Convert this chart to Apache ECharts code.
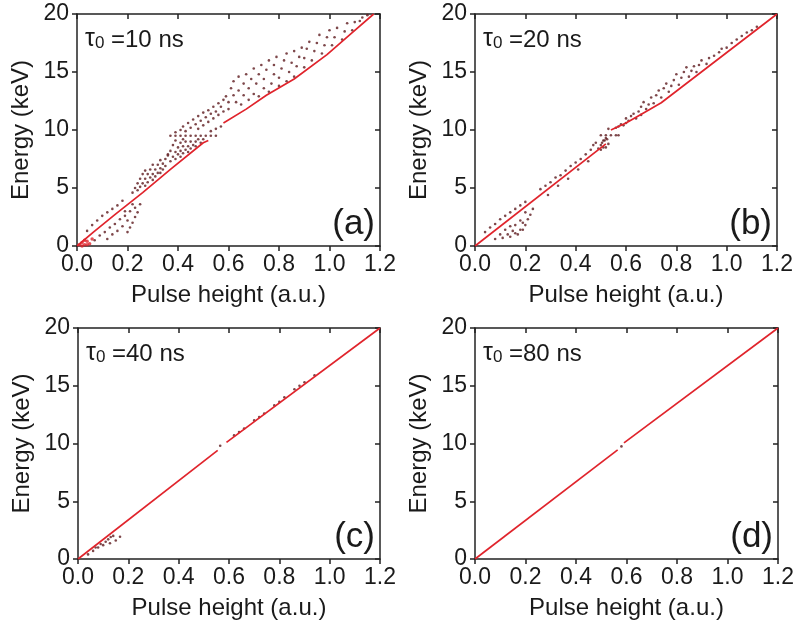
<!DOCTYPE html>
<html><head><meta charset="utf-8">
<script src="https://cdn.jsdelivr.net/npm/echarts@6/dist/echarts.min.js"></script>
<style>html,body{margin:0;padding:0;background:#fff}#c{width:800px;height:623px}</style>
</head><body><div id="c"></div>
<script>
// ---- data ----
var panelNames = ['(a)', '(b)', '(c)', '(d)'];
var tauLabels = ['10', '20', '40', '80'];
var xTicks = [0.0, 0.2, 0.4, 0.6, 0.8, 1.0, 1.2];
var yTicks = [0, 5, 10, 15, 20];

// (a) tau0 = 10 ns
var aBandLow = [[0,0],[0.065,1.2],[0.15,2.7],[0.26,4.6],[0.37,6.6],[0.5,8.9],[0.52,9.1]];
var aBandHigh = [[0.58,10.6],[0.67,11.8],[0.75,13.0],[0.86,14.4],[0.99,16.5],[1.09,18.4],[1.175,20]];
var aOrigin = [[0.01,0.1],[0.02,0.3],[0.03,0.1],[0.04,0.4],[0.03,0.5],[0.05,0.2],[0.02,0.0],[0.04,0.1],[0.06,0.6]];
var aScatter = [
[0.04,1.3],[0.06,1.8],[0.08,2.2],[0.10,2.6],[0.12,2.9],[0.14,3.2],[0.16,3.5],[0.18,3.9],[0.07,0.5],[0.09,0.9],
[0.11,1.2],[0.13,1.6],[0.15,1.9],[0.17,2.3],[0.19,2.6],[0.21,3.0],[0.23,3.3],[0.25,3.6],[0.12,0.6],[0.14,1.0],
[0.16,1.3],[0.18,1.7],[0.20,1.2],[0.21,1.6],[0.22,2.0],[0.23,2.5],[0.24,2.9],[0.20,2.2],[0.19,3.0],[0.22,3.6],
[0.22,4.6],[0.23,5.0],[0.24,5.4],[0.25,5.8],[0.26,6.2],[0.27,6.5],[0.24,4.8],[0.25,5.1],[0.26,5.4],[0.27,5.8],
[0.28,6.2],[0.29,6.6],[0.30,7.0],[0.27,5.2],[0.28,5.5],[0.29,5.9],[0.30,6.2],[0.31,6.6],[0.32,7.0],[0.33,7.4],
[0.30,5.7],[0.31,6.0],[0.32,6.3],[0.33,6.7],[0.34,7.1],[0.35,7.5],[0.36,7.9],[0.33,6.3],[0.34,6.6],[0.35,6.9],
[0.37,9.5],[0.39,9.5],[0.41,9.5],[0.43,9.5],[0.45,9.5],[0.47,9.5],[0.49,9.5],[0.51,9.5],[0.53,9.5],[0.55,9.5],
[0.37,7.3],[0.38,7.7],[0.39,8.1],[0.40,8.5],[0.41,8.9],[0.42,9.2],[0.39,7.5],[0.40,7.9],[0.41,8.2],[0.42,8.6],
[0.43,9.0],[0.41,7.7],[0.42,8.0],[0.43,8.3],[0.44,8.6],[0.45,9.0],[0.44,8.1],[0.45,8.4],[0.46,8.7],[0.47,9.0],
[0.48,9.2],[0.47,8.6],[0.49,8.9],[0.50,9.2],[0.38,8.7],[0.39,9.1],[0.37,8.2],[0.36,7.8],
[0.39,9.8],[0.41,10.0],[0.42,10.3],[0.43,9.9],[0.44,10.6],[0.45,10.2],[0.46,10.9],[0.47,10.5],[0.48,10.1],[0.48,11.2],
[0.49,10.8],[0.50,10.4],[0.50,11.5],[0.51,11.1],[0.52,10.7],[0.52,11.7],[0.53,11.4],[0.54,11.0],[0.54,12.0],[0.55,11.6],
[0.56,11.3],[0.56,12.3],[0.57,12.0],[0.58,11.6],[0.58,12.6],[0.57,10.3],[0.55,10.1],[0.53,9.9],[0.59,12.9],[0.60,12.4],[0.60,11.8],
[0.61,13.6],[0.62,14.2],[0.62,13.0],[0.63,12.4],[0.64,13.4],[0.64,14.6],[0.65,12.2],[0.66,13.0],[0.66,14.0],[0.67,14.8],
[0.68,12.6],[0.68,13.6],[0.69,14.4],[0.70,15.3],[0.70,13.1],[0.71,14.0],[0.72,14.8],[0.72,12.9],[0.73,15.6],[0.74,13.6],
[0.74,14.4],[0.75,15.2],[0.76,13.3],[0.76,16.0],[0.77,14.0],[0.78,14.8],[0.78,15.6],[0.79,16.3],[0.80,13.8],[0.80,14.5],
[0.81,15.3],[0.82,16.0],[0.83,16.6],[0.83,14.2],[0.84,15.0],[0.85,15.8],[0.86,16.8],[0.86,14.6],[0.87,15.5],[0.88,16.3],
[0.89,17.1],[0.90,15.4],[0.90,16.2],[0.91,17.0],[0.92,17.6],[0.93,16.0],[0.94,16.8],[0.95,17.5],[0.96,18.2],[0.97,16.6],
[0.98,17.3],[0.99,18.0],[1.00,18.6],[1.01,17.3],[1.02,18.0],[1.03,18.8],[1.05,17.8],[1.06,18.5],[1.07,19.2],[1.09,18.6],
[1.10,19.3],[1.12,19.4],[1.13,19.7],[1.15,19.9]
];

// (b) tau0 = 20 ns
var bBandLow = [[0,0],[0.52,8.8]];
var bBandHigh = [[0.54,10.0],[0.60,10.6],[0.68,11.6],[0.74,12.35],[1.2,20]];
var bScatter = [
[0.08,0.6],[0.10,1.0],[0.12,1.4],[0.11,0.7],[0.13,1.0],[0.15,1.3],[0.14,0.8],[0.16,1.1],[0.18,1.4],[0.17,1.0],
[0.19,1.4],[0.20,1.8],[0.19,2.0],[0.21,2.3],[0.22,2.7],[0.18,2.2],[0.16,1.8],[0.14,1.7],[0.20,2.9],[0.23,3.2],
[0.04,1.2],[0.06,1.6],[0.08,1.9],[0.10,2.3],[0.12,2.6],[0.14,2.9],[0.16,3.2],[0.18,3.5],[0.20,3.8],
[0.26,4.9],[0.28,5.2],[0.30,5.5],[0.32,5.9],[0.34,6.1],[0.36,6.5],[0.38,6.9],[0.40,7.2],[0.42,7.5],[0.44,7.9],
[0.46,8.3],[0.47,8.7],[0.48,8.9],[0.49,8.4],[0.50,8.7],[0.51,9.1],[0.52,8.5],[0.52,9.3],[0.29,4.4],[0.33,5.2],
[0.37,5.8],[0.41,6.6],[0.45,7.3],[0.50,8.3],[0.505,8.9],[0.51,8.5],[0.515,9.1],[0.525,9.2],[0.53,8.8],
[0.50,9.55],[0.52,9.55],[0.54,9.55],[0.56,9.55],[0.57,9.55],[0.53,10.1],
[0.56,10.2],[0.57,10.3],[0.58,10.5],[0.59,10.4],[0.60,10.6],[0.61,10.8],[0.60,11.0],[0.62,11.2],[0.63,11.4],[0.64,11.0],
[0.65,11.6],[0.66,11.3],[0.66,12.0],[0.67,12.4],[0.68,11.8],[0.69,12.2],[0.70,12.8],[0.71,12.3],[0.72,13.0],[0.73,13.4],
[0.74,12.8],[0.75,13.6],[0.76,14.0],[0.77,13.3],[0.78,13.8],[0.79,14.3],[0.80,14.8],[0.81,13.9],[0.82,14.5],[0.83,15.0],
[0.84,15.4],[0.85,14.6],[0.86,15.1],[0.87,15.5],[0.88,15.0],[0.89,15.6],[0.90,16.0],[0.92,15.7],[0.93,16.2],[0.95,16.4],
[0.97,16.7],[0.98,17.0],[1.00,17.1],[1.02,17.5],[1.04,17.8],[1.06,18.1],[1.08,18.4],[1.10,18.6],[1.12,18.9]
];

// (c) tau0 = 40 ns
var cBandLow = [[0,0],[0.555,9.4]];
var cBandHigh = [[0.59,10.1],[1.2,20]];
var cScatter = [
[0.04,0.4],[0.06,0.7],[0.08,1.0],[0.09,1.3],[0.10,1.2],[0.11,1.5],[0.12,1.7],[0.13,1.9],[0.14,2.0],[0.07,1.0],
[0.127,1.36],[0.167,1.93],[0.15,1.6],
[0.565,9.8],
[0.62,10.7],[0.66,11.3],[0.70,12.0],[0.74,12.6],[0.78,13.3],[0.82,14.0],[0.86,14.7],[0.90,15.3],[0.94,15.9],
[0.64,11.0],[0.72,12.3],[0.80,13.6],[0.88,15.0]
];

// (d) tau0 = 80 ns
var dBandLow = [[0,0],[0.565,9.45]];
var dBandHigh = [[0.59,10.05],[1.2,20]];
var dScatter = [[0.58,9.75]];

// ---- chart ----
var FONT = 'Liberation Sans, Arial, Helvetica, sans-serif';
var TXT = '#1a1a1a';
var grids = [
  {left: 77, top: 14, width: 303, height: 232},
  {left: 475, top: 14, width: 302, height: 232},
  {left: 78, top: 328, width: 302, height: 231},
  {left: 475, top: 328, width: 303, height: 231}
];
var bands = [[aBandLow, aBandHigh], [bBandLow, bBandHigh], [cBandLow, cBandHigh], [dBandLow, dBandHigh]];
var scatters = [aScatter, bScatter, cScatter, dScatter];

var axisLine = {show: true, onZero: false, lineStyle: {color: '#222', width: 1.5}};
var xAxes = [], yAxes = [], series = [], graphics = [];
grids.forEach(function (g, i) {
  xAxes.push({type: 'value', gridIndex: i, position: 'bottom', min: xTicks[0], max: xTicks[xTicks.length - 1], interval: 0.2,
    name: 'Pulse height (a.u.)', nameLocation: 'middle', nameGap: 37,
    nameTextStyle: {fontFamily: FONT, fontSize: 24, color: TXT},
    axisLine: axisLine, axisTick: {show: true, inside: false, length: 5, lineStyle: {color: '#222', width: 1.5}},
    axisLabel: {fontFamily: FONT, fontSize: 23, color: TXT, margin: 7, formatter: function (v) { return v.toFixed(1); }},
    splitLine: {show: false}});
  xAxes.push({type: 'value', gridIndex: i, position: 'top', min: 0, max: 1.2, interval: 0.2,
    axisLine: axisLine, axisTick: {show: true, inside: true, length: 5, lineStyle: {color: '#222', width: 1.5}},
    axisLabel: {show: false}, splitLine: {show: false}});
  yAxes.push({type: 'value', gridIndex: i, position: 'left', min: yTicks[0], max: yTicks[yTicks.length - 1], interval: 5,
    name: 'Energy (keV)', nameLocation: 'middle', nameGap: 44,
    nameTextStyle: {fontFamily: FONT, fontSize: 24, color: TXT},
    axisLine: axisLine, axisTick: {show: true, inside: false, length: 5, lineStyle: {color: '#222', width: 1.5}},
    axisLabel: {fontFamily: FONT, fontSize: 23, color: TXT, margin: 8},
    splitLine: {show: false}});
  yAxes.push({type: 'value', gridIndex: i, position: 'right', min: 0, max: 20, interval: 5,
    axisLine: axisLine, axisTick: {show: true, inside: true, length: 5, lineStyle: {color: '#222', width: 1.5}},
    axisLabel: {show: false}, splitLine: {show: false}});

  bands[i].forEach(function (seg) {
    series.push({type: 'line', xAxisIndex: 2 * i, yAxisIndex: 2 * i, data: seg, showSymbol: false, silent: true,
      lineStyle: {color: '#e0242c', width: 1.7}, z: 3});
  });
  series.push({type: 'scatter', xAxisIndex: 2 * i, yAxisIndex: 2 * i, data: scatters[i], symbolSize: 2.6, silent: true,
    itemStyle: {color: '#5e1a1e'}, z: 2});
  if (i === 0) {
    series.push({type: 'scatter', xAxisIndex: 0, yAxisIndex: 0, data: aOrigin, symbolSize: 3.5, silent: true,
      itemStyle: {color: '#e0242c'}, z: 4});
  }

  graphics.push({type: 'text', left: g.left + 8, top: g.top + 13,
    style: {text: '{t|τ}{s|0}{n| =' + tauLabels[i] + ' ns}', fill: TXT,
      rich: {
        t: {fontFamily: FONT, fontSize: 25, lineHeight: 25, verticalAlign: 'bottom', fill: TXT},
        s: {fontFamily: FONT, fontSize: 17, lineHeight: 19, verticalAlign: 'bottom', fill: TXT},
        n: {fontFamily: FONT, fontSize: 24, lineHeight: 24, verticalAlign: 'bottom', fill: TXT}
      }}});
  graphics.push({type: 'text', right: 800 - (g.left + g.width) + 5, top: g.top + g.height - 39,
    style: {text: panelNames[i], fontFamily: FONT, fontSize: 35, fill: TXT}});
});

var chart = echarts.init(document.getElementById('c'), null, {renderer: 'canvas'});
chart.setOption({
  animation: false,
  backgroundColor: '#fff',
  grid: grids.map(function (g) { return Object.assign({containLabel: false, outerBoundsMode: 'none'}, g); }),
  xAxis: xAxes,
  yAxis: yAxes,
  series: series,
  graphic: graphics
});
</script>
</body></html>
